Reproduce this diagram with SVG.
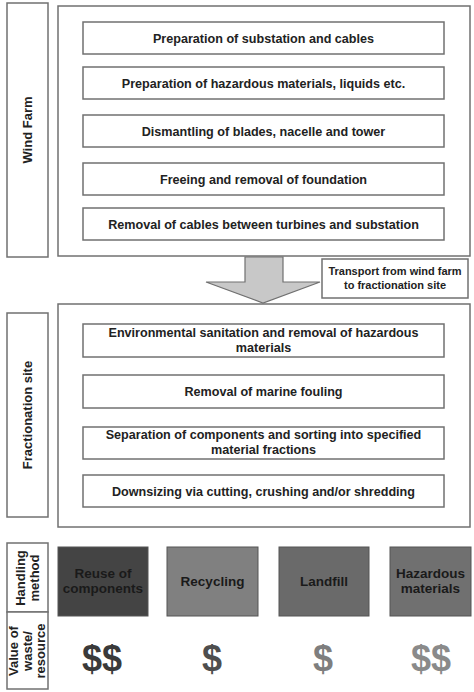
<svg xmlns="http://www.w3.org/2000/svg" width="474" height="692" viewBox="0 0 474 692">
<style>
.box{fill:#fff;stroke:#707070;stroke-width:1.5}
.t{font-family:"Liberation Sans",Arial,sans-serif;font-weight:bold;font-size:12.6px;fill:#222;text-anchor:middle}
.lb{font-size:13px}
.hb{font-size:13.5px;fill:#1a1a1a}
.big{font-family:"Liberation Sans",Arial,sans-serif;font-weight:bold;font-size:36px;text-anchor:middle}
.hm{stroke:#555;stroke-width:1}
</style>
<rect width="474" height="692" fill="#fff"/>
<g id="windfarm-label"><rect class="box" x="7" y="3" width="41" height="254"/><text class="t lb" transform="translate(32,130) rotate(-90)">Wind Farm</text></g>
<g id="windfarm"><rect class="box" x="58" y="6" width="412" height="250"/></g>
<g id="wf1"><rect class="box" x="83" y="22" width="361" height="32"/><text class="t" x="263.5" y="42.5">Preparation of substation and cables</text></g>
<g id="wf2"><rect class="box" x="83" y="67" width="361" height="32"/><text class="t" x="263.5" y="87.5">Preparation of hazardous materials, liquids etc.</text></g>
<g id="wf3"><rect class="box" x="83" y="115" width="361" height="32"/><text class="t" x="263.5" y="135.5">Dismantling of blades, nacelle and tower</text></g>
<g id="wf4"><rect class="box" x="83" y="163" width="361" height="32"/><text class="t" x="263.5" y="183.5">Freeing and removal of foundation</text></g>
<g id="wf5"><rect class="box" x="83" y="208" width="361" height="32"/><text class="t" x="263.5" y="228.5">Removal of cables between turbines and substation</text></g>
<g id="connectors"><polygon points="245,257 283,257 283,282 320,282 263,303 206,282 245,282" fill="#c8c8c8" stroke="#707070" stroke-width="1.2"/></g>
<g id="transport"><rect class="box" x="322" y="259" width="146" height="39"/><text class="t" x="395" y="275" style="font-size:11px">Transport from wind farm</text><text class="t" x="395" y="289" style="font-size:11px">to fractionation site</text></g>
<g id="frac-label"><rect class="box" x="7" y="313" width="41" height="204"/><text class="t lb" transform="translate(32,415) rotate(-90)">Fractionation site</text></g>
<g id="frac"><rect class="box" x="58" y="304" width="412" height="223"/></g>
<g id="fr1"><rect class="box" x="83" y="324" width="361" height="33"/><text class="t" x="263.5" y="337">Environmental sanitation and removal of hazardous</text><text class="t" x="263.5" y="352">materials</text></g>
<g id="fr2"><rect class="box" x="83" y="375" width="361" height="33"/><text class="t" x="263.5" y="395.5">Removal of marine fouling</text></g>
<g id="fr3"><rect class="box" x="83" y="427" width="361" height="32"/><text class="t" x="263.5" y="439">Separation of components and sorting into specified</text><text class="t" x="263.5" y="454">material fractions</text></g>
<g id="fr4"><rect class="box" x="83" y="475" width="361" height="32"/><text class="t" x="263.5" y="495.5">Downsizing via cutting, crushing and/or shredding</text></g>
<g id="handling-label"><rect class="box" x="7" y="543" width="41" height="69"/><text class="t lb" transform="translate(25,578) rotate(-90)">Handling</text><text class="t lb" transform="translate(39,578) rotate(-90)">method</text></g>
<g id="value-label"><rect class="box" x="7" y="612" width="41" height="77"/><text class="t lb" transform="translate(18,651) rotate(-90)">Value of</text><text class="t lb" transform="translate(31.5,651) rotate(-90)">waste/</text><text class="t lb" transform="translate(45,651) rotate(-90)">resource</text></g>
<g id="reuse"><rect class="hm" x="58" y="547" width="90" height="69" fill="#444"/><text class="t hb" x="103" y="578">Reuse of</text><text class="t hb" x="103" y="593">components</text></g>
<g id="recycling"><rect class="hm" x="167" y="547" width="91" height="69" fill="#808080"/><text class="t hb" x="212.5" y="586">Recycling</text></g>
<g id="landfill"><rect class="hm" x="279" y="547" width="90" height="69" fill="#6a6a6a"/><text class="t hb" x="324" y="586">Landfill</text></g>
<g id="hazardous"><rect class="hm" x="390" y="547" width="81" height="69" fill="#707070"/><text class="t hb" x="430.5" y="578">Hazardous</text><text class="t hb" x="430.5" y="593">materials</text></g>
<g id="values">
<text class="big" x="102" y="671" fill="#3a3a3a">$$</text>
<text class="big" x="212" y="671" fill="#4e4e4e">$</text>
<text class="big" x="323" y="671" fill="#7e7e7e">$</text>
<text class="big" x="431" y="671" fill="#8a8a8a">$$</text>
</g>
</svg>
